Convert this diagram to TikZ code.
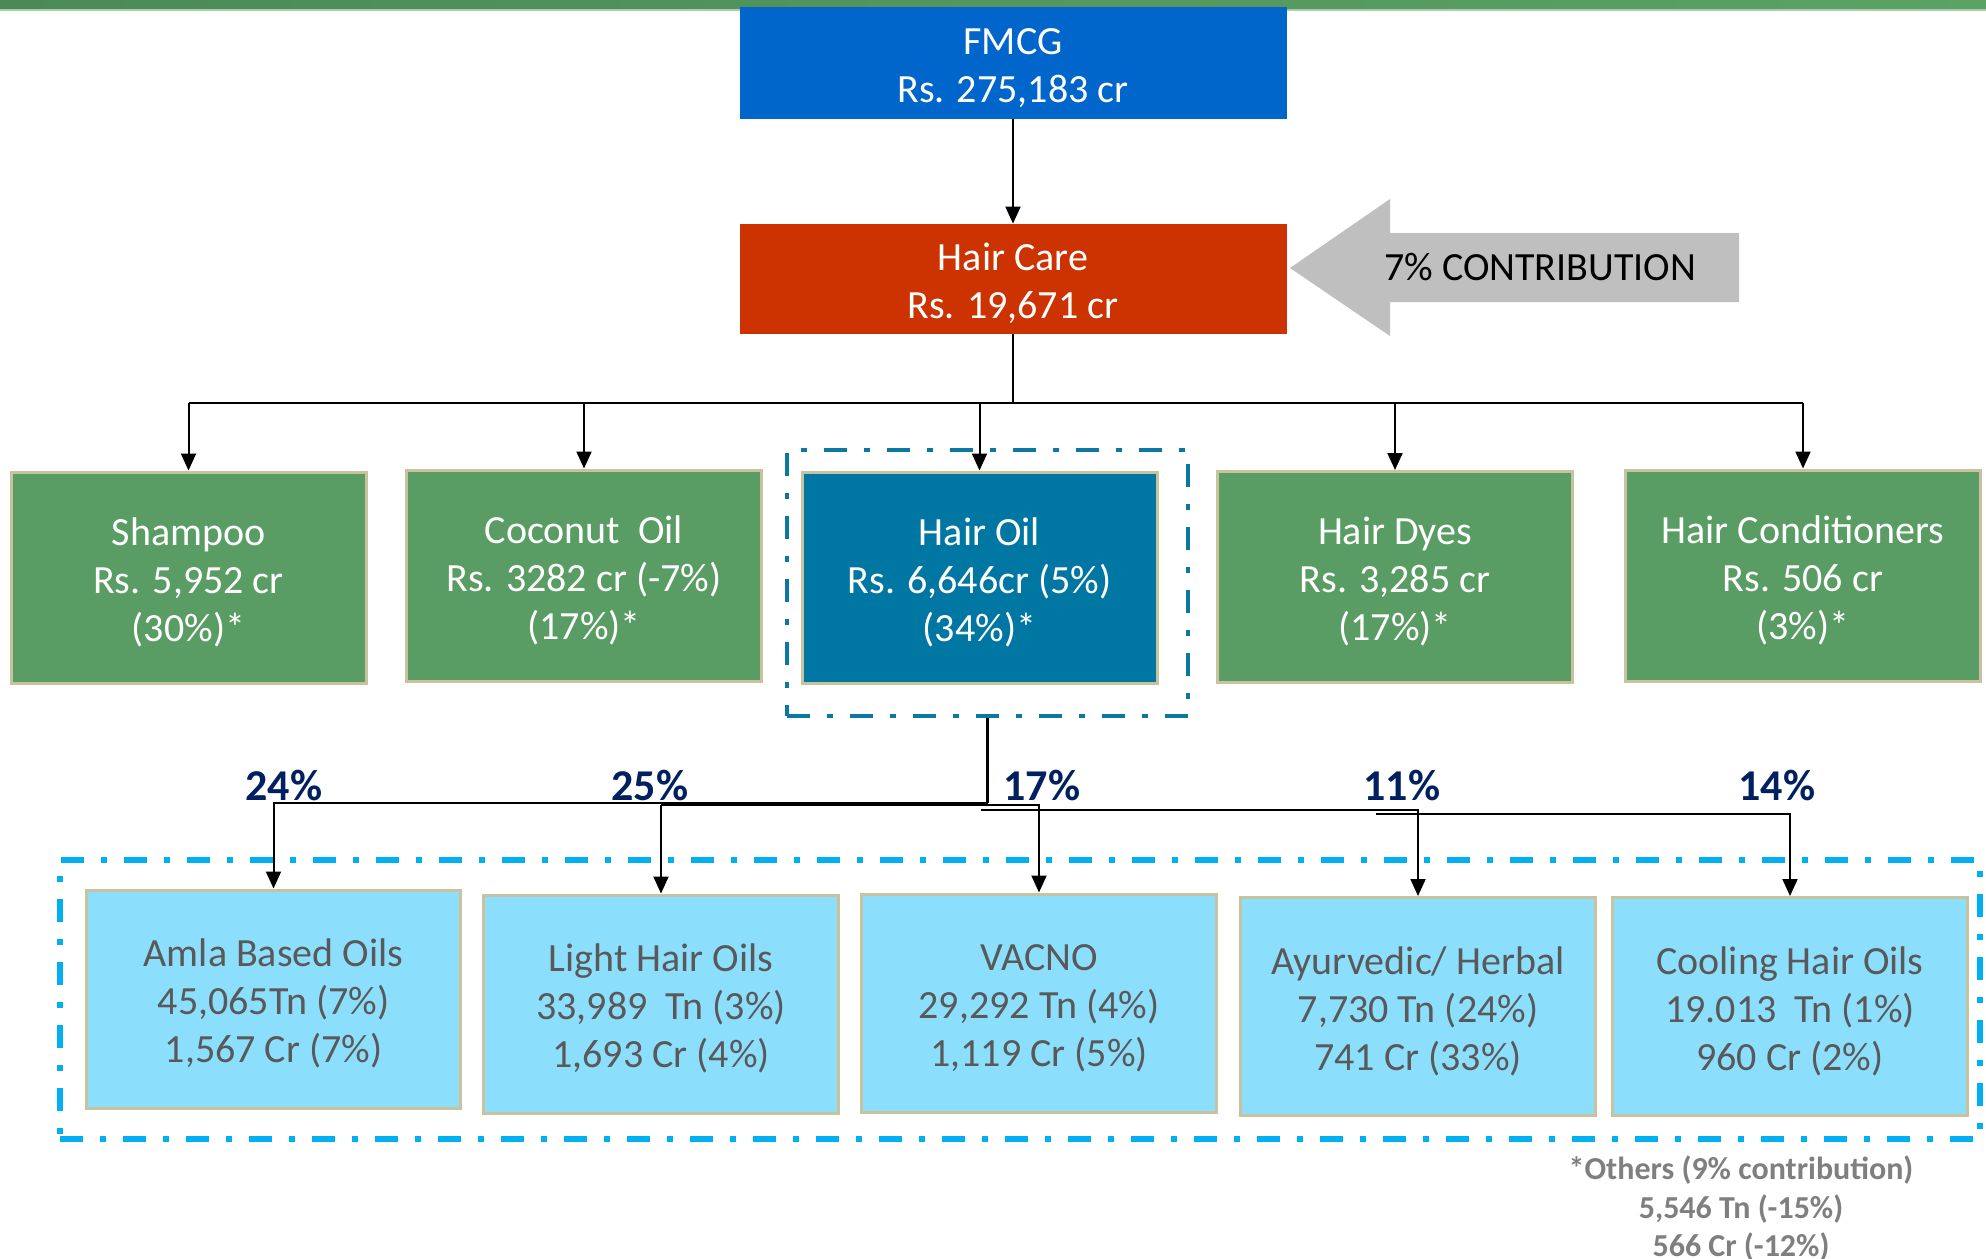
\documentclass[tikz,border=0pt]{standalone}
\usepackage{fontspec}
\setmainfont{Carlito}
\usetikzlibrary{arrows.meta}

\definecolor{fmcgblue}{HTML}{0066CC}
\definecolor{hcred}{HTML}{CC3300}
\definecolor{catgreen}{HTML}{5A9D64}
\definecolor{oilblue}{HTML}{0077A2}
\definecolor{subblue}{HTML}{8CDFFC}
\definecolor{tanline}{HTML}{C9C29E}
\definecolor{subgrey}{HTML}{595959}
\definecolor{sharenavy}{HTML}{002060}
\definecolor{notegrey}{HTML}{7F7F7F}
\definecolor{arrowgrey}{HTML}{BFBFBF}
\definecolor{oilframe}{HTML}{0A78A0}
\definecolor{groupblue}{HTML}{00B0F0}
\definecolor{bargreenL}{HTML}{4B8A57}
\definecolor{bargreenR}{HTML}{5BA265}
\definecolor{barlight}{HTML}{A9CFA9}

\newcommand{\toprow}{\rule{0pt}{18.5pt}}

\begin{document}
\begin{tikzpicture}[x=0.5pt,y=-0.5pt,
	box/.style={rectangle,inner sep=0pt,align=center,font=\fontsize{20}{24}\selectfont},
	catbox/.style={box,draw=tanline,line width=1.5pt,fill=catgreen,text=white,minimum width=177.5pt,minimum height=105.5pt},
	subbox/.style={box,draw=tanline,line width=1.5pt,fill=subblue,text=subgrey,minimum width=177.5pt,minimum height=109pt},
	share/.style={anchor=base,text=sharenavy,font=\fontsize{22}{26}\selectfont\bfseries},
	note/.style={anchor=base,text=notegrey,font=\fontsize{16}{19}\selectfont\bfseries},
	dashdot/.style={dash pattern=on 11.5pt off 8.5pt on 3pt off 8.5pt},
	link/.style={line width=1pt},
	>={Triangle[length=8.5pt,width=7.5pt]}]

	\useasboundingbox (0,0) rectangle (1986,1258);
	\shade[left color=bargreenL,right color=bargreenR] (0,0) rectangle (1986,9);
	\fill[barlight] (0,9) rectangle (1986,11);

	\node[box,fill=fmcgblue,text=white,minimum width=273.5pt,minimum height=56pt] (fmcg) at (1013,63) {\toprow FMCG\\Rs. 275,183 cr};
	\node[box,fill=hcred,text=white,minimum width=273.5pt,minimum height=55pt] (haircare) at (1013,279) {\toprow Hair Care\\Rs. 19,671 cr};

	\fill[arrowgrey] (1290,268) -- (1390,199) -- (1390,233) -- (1739,233) -- (1739,302) -- (1390,302) -- (1390,336) -- cycle;
	\node[box] (contrib) at (1540,267) {7\% CONTRIBUTION};

	\node[catbox] (shampoo) at (188.5,577.5) {\toprow Shampoo\\Rs. 5,952 cr\\(30\%)*};
	\node[catbox] (coconut) at (584,575.5) {\toprow Coconut~ Oil\\Rs. 3282 cr (-7\%)\\(17\%)*};
	\node[draw=oilframe,line width=2pt,dashdot,inner sep=0pt,minimum width=200.5pt,minimum height=133pt] (oilgroup) at (987.5,583) {};
	\node[catbox,fill=oilblue] (hairoil) at (979.5,577.5) {\toprow Hair Oil\\Rs. 6,646cr (5\%)\\(34\%)*};
	\node[catbox] (dyes) at (1395,577) {\toprow Hair Dyes\\Rs. 3,285 cr\\(17\%)*};
	\node[catbox] (cond) at (1803,575.5) {\toprow Hair Conditioners\\Rs. 506 cr\\(3\%)*};

	\node[draw=groupblue,line width=2.8pt,dashdot,inner sep=0pt,minimum width=960pt,minimum height=139.5pt] (oilrange) at (1020,999.5) {};
	\node[subbox,minimum width=187pt] (amla) at (273.5,999) {\toprow Amla Based Oils\\45,065Tn (7\%)\\1,567 Cr (7\%)};
	\node[subbox] (light) at (661,1004) {\toprow Light Hair Oils\\33,989~ Tn (3\%)\\1,693 Cr (4\%)};
	\node[subbox] (vacno) at (1039,1003) {\toprow VACNO\\29,292 Tn (4\%)\\1,119 Cr (5\%)};
	\node[subbox] (ayur) at (1418,1006.5) {\toprow Ayurvedic/ Herbal\\7,730 Tn (24\%)\\741 Cr (33\%)};
	\node[subbox] (cool) at (1790,1006.5) {\toprow Cooling Hair Oils\\19.013~ Tn (1\%)\\960 Cr (2\%)};

	\node[share] (s24) at (284,800) {24\%};
	\node[share] (s25) at (650,800) {25\%};
	\node[share] (s17) at (1042,800) {17\%};
	\node[share] (s11) at (1402,800) {11\%};
	\node[share] (s14) at (1777,800) {14\%};

	\node[note] (others1) at (1741,1179) {*Others (9\% contribution)};
	\node[note] (others2) at (1741,1218) {5,546 Tn (-15\%)};
	\node[note] (others3) at (1741,1256) {566 Cr (-12\%)};

	\coordinate (hcsplit) at (1013,403);
	\path[link,->] (fmcg) edge (haircare);
	\draw[link] (haircare) -- (hcsplit);
	\draw[link] (shampoo |- hcsplit) -- (cond |- hcsplit);
	\foreach \n in {shampoo,coconut,hairoil,dyes,cond}
		\draw[link,->] (\n |- hcsplit) -- (\n);

	\coordinate (oilsplit) at (987.5,803);
	\coordinate (lightsplit) at (661,805);
	\coordinate (ayursplit) at (981,810);
	\coordinate (coolsplit) at (1376,814);
	\draw[line width=1.4pt] (oilgroup) -- (oilsplit);
	\draw[link,->] (oilsplit) -| (amla);
	\draw[link,->] (lightsplit) -- (light);
	\draw[link,->] (lightsplit) -| (vacno);
	\draw[link,->] (ayursplit) -| (ayur);
	\draw[link,->] (coolsplit) -| (cool);

\end{tikzpicture}
\end{document}
